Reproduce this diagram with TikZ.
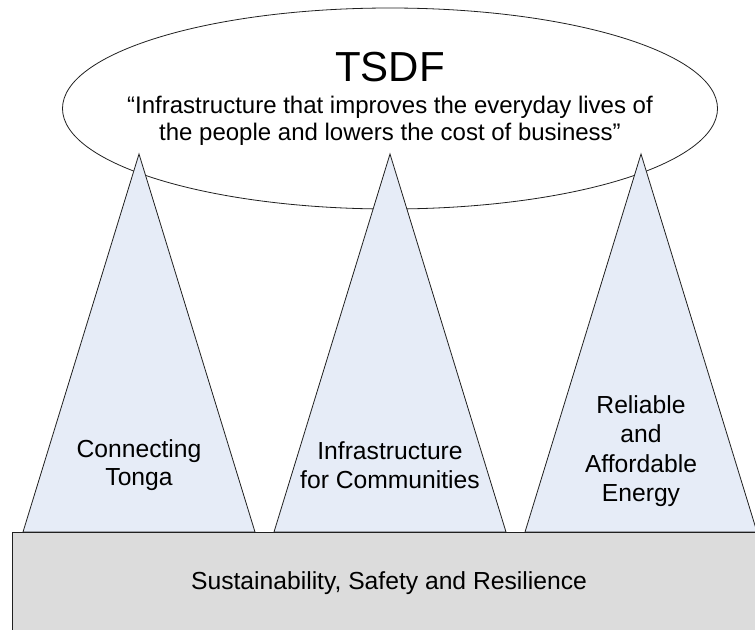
\documentclass[tikz,border=0pt]{standalone}
\usepackage{fontspec}
\setmainfont{Liberation Sans}
\usetikzlibrary{shapes.geometric}
\definecolor{pillar}{HTML}{E6ECF7}
\definecolor{base}{HTML}{DCDCDC}
\definecolor{edge}{HTML}{202020}
\tikzset{
  pillarshape/.style={draw=edge, line width=0.6pt, fill=pillar, line join=miter},
  lbl/.style={align=center, inner sep=0pt, font=\fontsize{18.5pt}{21.5pt}\selectfont},
}
\begin{document}
\begin{tikzpicture}[x=0.75pt,y=-0.75pt]
\useasboundingbox (0,0) rectangle (755,629);
\clip (0,0) rectangle (755,629);
\fill[white] (0,0) rectangle (755,629);
% ellipse
\node[ellipse, draw=edge, line width=0.6pt, fill=white, minimum width=491.25pt, minimum height=150.75pt, inner sep=0pt] (vision) at (390,108.5) {};
\node[inner sep=0pt, font=\fontsize{31.5pt}{36pt}\selectfont] (tsdf) at (390,67) {TSDF};
\node[align=center, inner sep=0pt, font=\fontsize{18pt}{20.25pt}\selectfont] (quote) at (390,121) {“Infrastructure that improves the everyday lives of\\the people and lowers the cost of business”};
% pillars
\path[pillarshape] (139,154) -- (255,532) -- (23,532) -- cycle;
\path[pillarshape] (390,154) -- (506,532) -- (274,532) -- cycle;
\path[pillarshape] (641,154) -- (757,532) -- (525,532) -- cycle;
\node[lbl] (p1) at (139,465) {Connecting\\Tonga};
\node[lbl] (p2) at (390,465) {Infrastructure\\for Communities};
\node[lbl, font=\fontsize{18.5pt}{22pt}\selectfont] (p3) at (641,451) {Reliable\\and\\Affordable\\Energy};
% base
\path[draw=edge, line width=0.6pt, fill=base] (12,532) rectangle (770,640);
\node[lbl] (foundation) at (389,583) {Sustainability, Safety and Resilience};
\end{tikzpicture}
\end{document}
